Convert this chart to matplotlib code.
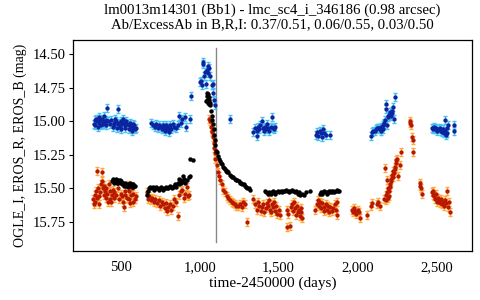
import numpy as np
import matplotlib
matplotlib.use('Agg')
import matplotlib.pyplot as plt
from matplotlib.ticker import FuncFormatter

# EROS_B (blue)
b_x = [330, 335, 340, 345, 350, 355, 360, 365, 370, 375,
       380, 385, 390, 395, 400, 405, 410, 415, 420, 430,
       440, 450, 455, 460, 465, 470, 475, 480, 485, 490,
       495, 500, 505, 510, 515, 520, 525, 530, 535, 540,
       550, 555, 560, 565, 570, 575, 580, 585, 590, 598,
       695, 705, 715, 725, 735, 745, 755, 760, 765, 770,
       775, 780, 785, 790, 795, 800, 805, 810, 815, 820,
       830, 840, 850, 860, 870, 880, 890, 905, 915, 940,
       945, 1002, 1008, 1015, 1019, 1023, 1030, 1036, 1040, 1045,
       1050, 1055, 1061, 1065, 1075, 1082, 1087, 1092, 1097, 1192,
       1340, 1350, 1360, 1365, 1372, 1378, 1385, 1392, 1398, 1405,
       1412, 1420, 1428, 1435, 1442, 1450, 1456, 1462, 1468, 1475,
       1735, 1745, 1752, 1760, 1768, 1775, 1782, 1790, 1800, 1825,
       2082, 2090, 2100, 2110, 2118, 2125, 2132, 2140, 2148, 2155,
       2160, 2165, 2170, 2175, 2177, 2180, 2185, 2190, 2195, 2199,
       2205, 2210, 2215, 2220, 2226, 2230, 2236, 2158, 2150, 2138,
       2468, 2475, 2482, 2490, 2498, 2505, 2512, 2520, 2528, 2535,
       2540, 2545, 2550, 2553, 2558, 2563, 2568, 2572, 2612, 2612]
b_y = [15.02, 14.99, 15.03, 14.98, 15.00, 15.04, 14.97, 15.01, 14.99, 15.03,
       14.98, 15.00, 15.02, 14.96, 15.01, 14.99, 15.03, 14.90, 15.00, 15.02,
       14.99, 15.04, 15.01, 15.03, 14.98, 15.00, 15.05, 15.02, 14.91, 15.01,
       15.04, 15.00, 15.06, 15.02, 14.98, 15.01, 15.03, 15.05, 15.00, 15.02,
       15.06, 15.03, 15.01, 15.04, 15.07, 15.02, 15.05, 15.03, 15.06, 15.05,
       15.01, 15.03, 15.04, 15.02, 15.05, 15.03, 15.04, 15.06, 15.03, 15.05,
       15.04, 15.07, 15.03, 15.05, 15.06, 15.04, 15.08, 15.05, 15.03, 15.06,
       15.02, 15.04, 15.05, 15.03, 14.96, 15.01, 14.98, 14.97, 15.04, 14.98,
       14.81, 14.71, 14.70, 14.73, 14.56, 14.57, 14.66, 14.63, 14.72, 14.62,
       14.64, 14.59, 14.60, 14.66, 14.73, 14.79, 14.72, 14.84, 14.88, 14.98,
       15.08, 15.05, 15.07, 15.11, 15.04, 15.06, 15.03, 15.00, 15.05, 15.07,
       15.04, 15.06, 15.02, 15.05, 15.07, 15.04, 14.97, 15.05, 15.06, 15.04,
       15.10, 15.08, 15.11, 15.07, 15.09, 15.12, 15.06, 15.09, 15.10, 15.10,
       15.11, 15.08, 15.07, 15.07, 15.06, 15.05, 15.05, 15.06, 15.04, 15.04,
       15.03, 15.02, 15.01, 14.99, 14.87, 14.91, 15.03, 14.96, 14.97, 14.95,
       14.93, 14.96, 14.94, 14.92, 14.89, 14.98, 14.82, 15.06, 15.07, 15.05,
       15.05, 15.06, 15.04, 15.06, 15.05, 15.07, 15.06, 15.05, 15.07, 15.08,
       15.06, 15.09, 15.07, 14.99, 15.10, 15.09, 15.05, 15.03, 15.03, 15.07]
b_err = 0.03

# EROS_R (red)
r_x = [325, 330, 335, 340, 345, 350, 352, 356, 360, 365,
       370, 375, 380, 383, 388, 392, 396, 400, 405, 410,
       415, 420, 425, 430, 435, 440, 445, 450, 455, 460,
       470, 480, 490, 500, 510, 515, 520, 525, 530, 540,
       545, 550, 555, 560, 565, 570, 575, 580, 590, 598,
       665, 672, 680, 690, 700, 710, 720, 730, 740, 750,
       760, 770, 780, 790, 795, 800, 810, 820, 830, 840,
       850, 865, 870, 880, 890, 900, 910, 918, 925, 935,
       1062, 1066, 1072, 1076, 1080, 1084, 1088, 1092, 1096, 1100,
       1108, 1116, 1124, 1130, 1140, 1150, 1160, 1172, 1182, 1192,
       1202, 1212, 1222, 1232, 1244, 1255, 1265, 1275, 1285, 1297,
       1340, 1352, 1362, 1370, 1378, 1386, 1394, 1402, 1410, 1418,
       1426, 1434, 1440, 1446, 1452, 1458, 1464, 1470, 1476, 1484,
       1492, 1500, 1510, 1550, 1556, 1562, 1570, 1576, 1582, 1590,
       1596, 1602, 1608, 1614, 1620, 1628, 1636, 1644, 1650, 1640,
       1732, 1740, 1748, 1755, 1762, 1770, 1777, 1784, 1790, 1798,
       1805, 1812, 1820, 1828, 1836, 1845, 1855, 1866, 1870, 1872,
       1962, 1970, 1978, 1985, 1992, 2000, 2008, 2012, 2057, 2085,
       2092, 2125, 2132, 2140, 2165, 2173, 2178, 2182, 2186, 2190,
       2194, 2198, 2202, 2206, 2210, 2214, 2218, 2222, 2226, 2230,
       2234, 2238, 2242, 2246, 2250, 2256, 2266, 2272, 2183, 2200,
       2330, 2334, 2340, 2346, 2350, 2352, 2394, 2398, 2402, 2406,
       2468, 2474, 2480, 2486, 2492, 2498, 2504, 2510, 2516, 2522,
       2528, 2534, 2540, 2546, 2552, 2558, 2563, 2570, 2578, 2585]
r_y = [15.58, 15.62, 15.55, 15.60, 15.52, 15.57, 15.37, 15.50, 15.56, 15.62,
       15.53, 15.47, 15.38, 15.45, 15.50, 15.55, 15.48, 15.52, 15.57, 15.50,
       15.54, 15.60, 15.47, 15.52, 15.58, 15.60, 15.55, 15.51, 15.57, 15.53,
       15.55, 15.50, 15.58, 15.54, 15.56, 15.60, 15.64, 15.55, 15.52, 15.57,
       15.48, 15.58, 15.52, 15.61, 15.55, 15.50, 15.60, 15.54, 15.58, 15.56,
       15.53, 15.58, 15.56, 15.59, 15.57, 15.60, 15.58, 15.61, 15.59, 15.63,
       15.60, 15.62, 15.65, 15.61, 15.67, 15.64, 15.62, 15.66, 15.63, 15.58,
       15.60, 15.71, 15.55, 15.52, 15.51, 15.57, 15.54, 15.49, 15.56, 15.55,
       14.98, 15.00, 15.04, 15.07, 15.08, 15.12, 15.16, 15.20, 15.24, 15.28,
       15.33, 15.38, 15.41, 15.44, 15.47, 15.51, 15.53, 15.56, 15.57, 15.59,
       15.60, 15.61, 15.62, 15.63, 15.63, 15.62, 15.64, 15.60, 15.62, 15.75,
       15.58, 15.62, 15.66, 15.60, 15.63, 15.67, 15.64, 15.62, 15.68, 15.65,
       15.61, 15.63, 15.59, 15.66, 15.68, 15.62, 15.64, 15.60, 15.67, 15.63,
       15.69, 15.66, 15.70, 15.79, 15.66, 15.69, 15.78, 15.64, 15.62, 15.67,
       15.60, 15.65, 15.70, 15.63, 15.68, 15.66, 15.71, 15.68, 15.72, 15.65,
       15.66, 15.62, 15.59, 15.63, 15.60, 15.65, 15.61, 15.64, 15.67, 15.62,
       15.66, 15.63, 15.68, 15.64, 15.67, 15.65, 15.62, 15.66, 15.70, 15.60,
       15.66, 15.68, 15.65, 15.67, 15.69, 15.66, 15.68, 15.72, 15.70, 15.63,
       15.61, 15.62, 15.60, 15.63, 15.58, 15.35, 15.59, 15.55, 15.53, 15.57,
       15.50, 15.52, 15.47, 15.49, 15.43, 15.45, 15.40, 15.42, 15.37, 15.39,
       15.34, 15.36, 15.31, 15.29, 15.28, 15.41, 15.33, 15.23, 15.44, 15.56,
       15.00, 15.01, 15.03, 15.12, 15.14, 15.23, 15.46, 15.48, 15.50, 15.54,
       15.53, 15.55, 15.52, 15.56, 15.58, 15.54, 15.60, 15.57, 15.59, 15.61,
       15.58, 15.62, 15.60, 15.63, 15.59, 15.61, 15.52, 15.64, 15.60, 15.68]
r_err = 0.03

# OGLE_I (black)
k_x = [445, 450, 455, 460, 465, 470, 475, 480, 485, 490,
       495, 500, 505, 510, 515, 520, 525, 530, 535, 540,
       545, 550, 555, 560, 565, 570, 575, 580, 585, 590,
       665, 672, 680, 688, 695, 702, 710, 718, 725, 732,
       740, 748, 755, 762, 770, 778, 785, 792, 800, 808,
       815, 822, 830, 838, 845, 852, 860, 868, 875, 882,
       890, 900, 910, 920, 930, 938, 940, 955, 872, 895,
       1040, 1044, 1048, 1052, 1056, 1060, 1064, 1068, 1072, 1076,
       1080, 1084, 1088, 1092, 1096, 1100, 1104, 1046, 1054, 1062,
       1110, 1116, 1122, 1128, 1134, 1140, 1146, 1152, 1158, 1164,
       1170, 1176, 1182, 1190, 1198, 1206, 1214, 1222, 1230, 1238,
       1246, 1254, 1262, 1270, 1278, 1286, 1294, 1302, 1310, 1318,
       1413, 1422, 1431, 1440, 1449, 1458, 1467, 1476, 1485, 1494,
       1503, 1512, 1521, 1530, 1539, 1548, 1557, 1566, 1575, 1584,
       1593, 1602, 1611, 1620, 1629, 1638, 1647, 1660, 1675, 1698,
       1762, 1769, 1776, 1783, 1790, 1797, 1804, 1811, 1818, 1825,
       1832, 1839, 1846, 1853, 1860, 1867, 1874, 1881]
k_y = [15.45, 15.43, 15.46, 15.44, 15.45, 15.43, 15.46, 15.44, 15.46, 15.45,
       15.44, 15.46, 15.45, 15.47, 15.46, 15.48, 15.47, 15.46, 15.48, 15.47,
       15.49, 15.47, 15.48, 15.46, 15.48, 15.47, 15.49, 15.47, 15.48, 15.48,
       15.55, 15.52, 15.50, 15.49, 15.50, 15.49, 15.51, 15.50, 15.49, 15.50,
       15.51, 15.50, 15.49, 15.50, 15.51, 15.50, 15.49, 15.50, 15.50, 15.49,
       15.48, 15.50, 15.49, 15.48, 15.47, 15.49, 15.46, 15.47, 15.44, 15.46,
       15.45, 15.43, 15.46, 15.44, 15.42, 15.41, 15.28, 15.29, 15.43, 15.41,
       14.85, 14.81, 14.79, 14.80, 14.82, 14.84, 14.86, 14.88, 14.92, 14.96,
       14.99, 15.02, 15.06, 15.10, 15.14, 15.18, 15.22, 14.84, 14.86, 14.87,
       15.23, 15.26, 15.28, 15.30, 15.31, 15.32, 15.34, 15.35, 15.36, 15.37,
       15.37, 15.38, 15.38, 15.40, 15.41, 15.42, 15.42, 15.43, 15.44, 15.44,
       15.45, 15.46, 15.46, 15.47, 15.47, 15.48, 15.49, 15.50, 15.50, 15.51,
       15.52, 15.53, 15.54, 15.53, 15.54, 15.53, 15.52, 15.54, 15.53, 15.52,
       15.53, 15.52, 15.53, 15.52, 15.52, 15.51, 15.52, 15.53, 15.52, 15.51,
       15.52, 15.53, 15.52, 15.54, 15.53, 15.55, 15.54, 15.55, 15.53, 15.52,
       15.54, 15.53, 15.54, 15.53, 15.52, 15.53, 15.54, 15.53, 15.52, 15.53,
       15.52, 15.53, 15.52, 15.53, 15.52, 15.51, 15.52, 15.52]

event_t = 1103
title = ('lm0013m14301 (Bb1) - lmc_sc4_i_346186 (0.98 arcsec)\n'
         'Ab/ExcessAb in B,R,I: 0.37/0.51, 0.06/0.55, 0.03/0.50')

plt.rcParams['font.family'] = ['Liberation Serif', 'DejaVu Serif']

fig = plt.figure(figsize=(4.8, 3.0), dpi=100)
ax = fig.add_axes([0.152, 0.163, 0.831, 0.705])

ax.errorbar(b_x, b_y, yerr=b_err, fmt='o', ms=3.1, mfc='#0c24a0', mec='none',
            ecolor='#45c0f0', elinewidth=1.0, capsize=1.5, zorder=2)
ax.errorbar(r_x, r_y, yerr=r_err, fmt='o', ms=3.1, mfc='#b81800', mec='none',
            ecolor='#ffa838', elinewidth=1.0, capsize=1.5, zorder=3)
ax.plot(k_x, k_y, 'o', ms=3.2, color='black', mec='none', zorder=4)

ax.plot([event_t, event_t], [14.455, 15.90], color='#888888', lw=1.0, zorder=1)

ax.set_xlim(198, 2723)
ax.set_ylim(15.97, 14.39)
ax.set_xticks([500, 1000, 1500, 2000, 2500])
ax.set_yticks([14.50, 14.75, 15.00, 15.25, 15.50, 15.75])
ax.xaxis.set_major_formatter(FuncFormatter(lambda v, p: f'{int(v):,}'))
ax.yaxis.set_major_formatter(FuncFormatter(lambda v, p: f'{v:.2f}'))
ax.tick_params(axis='x', length=0, pad=7, labelsize=10.5)
ax.tick_params(axis='y', length=3, width=0.8, pad=2, labelsize=10.5)
for s in ax.spines.values():
    s.set_linewidth(0.9)

ax.set_xlabel('time-2450000 (days)', fontsize=11, labelpad=2)
ax.set_ylabel('OGLE_I, EROS_R, EROS_B (mag)', fontsize=10, labelpad=4)
fig.text(0.567, 0.988, title, ha='center', va='top', fontsize=10.6, linespacing=1.1)

fig.savefig('out.png', dpi=100)
